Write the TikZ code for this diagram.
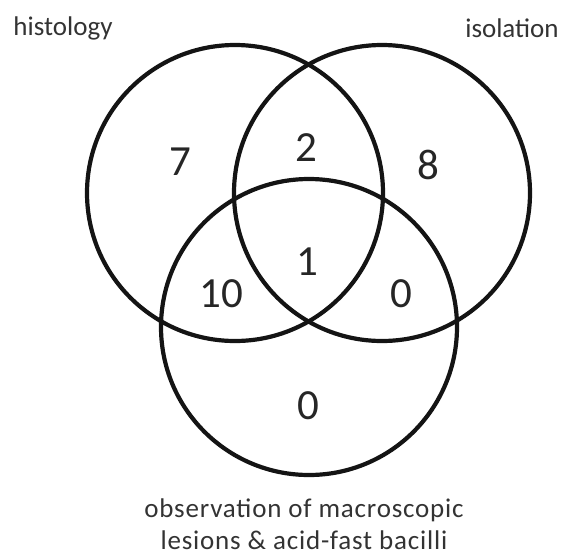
\documentclass[tikz,border=0pt]{standalone}
\usepackage{fontspec}
\setmainfont{Carlito}

\begin{document}
\begin{tikzpicture}[
  x=1pt, y=-1pt,
  set/.style={circle, draw=black!92, line width=4.2pt, minimum size=296pt, inner sep=0pt},
  count/.style={font=\fontsize{43}{43}\selectfont, text=black!85},
  lbl/.style={font=\fontsize{27}{32}\selectfont, text=black!80, align=center}
]
  \useasboundingbox (0,0) rectangle (567,557);

  % the three sets
  \node[set] (histo) at (235,193) {};
  \node[set] (isol) at (382,193) {};
  \node[set] (obs) at (309,327) {};

  % set names
  \node[lbl] (histolbl) at (63,28) {histology};
  \node[lbl] (isollbl) at (512,28) {isolation};
  \node[lbl, font=\fontsize{27}{32}\selectfont\addfontfeature{LetterSpace=3}] (obslbl) at (304,524)
    {observation of macroscopic\\lesions \& acid-fast bacilli};

  % counts
  \node[count] (nh) at (180,162) {7};
  \node[count] (nhi) at (306,148) {2};
  \node[count] (ni) at (428,165) {8};
  \node[count] (nall) at (307,262) {1};
  \node[count] (nho) at (221,294) {10};
  \node[count] (nio) at (401,294) {0};
  \node[count] (no) at (308,406) {0};
\end{tikzpicture}
\end{document}
